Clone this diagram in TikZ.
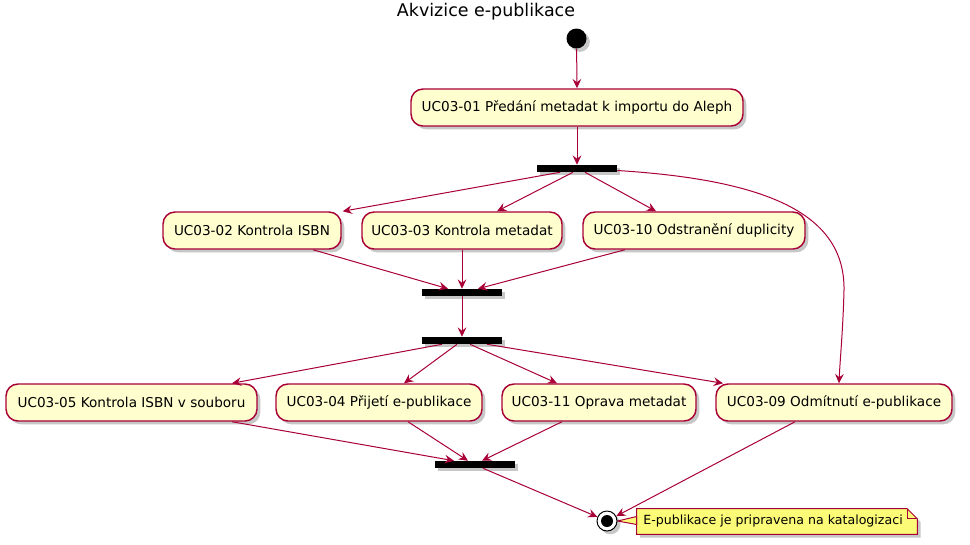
\documentclass[tikz,border=0pt]{standalone}
\usepackage{fontspec}
\setmainfont{DejaVu Sans}
\usetikzlibrary{arrows.meta,shadows,backgrounds}
\definecolor{boxfill}{HTML}{FEFECE}
\definecolor{boxline}{HTML}{A80036}
\definecolor{notefill}{HTML}{FBFB77}
\tikzset{
 shd/.style={drop shadow={shadow xshift=2.5pt,shadow yshift=-2.5pt,opacity=0.22,fill=black}},
 act/.style={draw=boxline, fill=boxfill, line width=1.1pt, rounded corners=9pt, minimum height=27.75pt, inner sep=0pt, font=\fontsize{10.2}{12}\selectfont, shd},
 bar/.style={fill=black, draw=none, minimum width=60pt, minimum height=5.25pt, inner sep=0pt, shd},
 flow/.style={draw=boxline, line width=0.75pt, -{Stealth[length=7pt,width=6.5pt,inset=2.5pt]}},
 notebody/.style={fill=notefill, draw=boxline, line width=0.75pt},
}
\begin{document}
\begin{tikzpicture}[x=0.75pt,y=-0.75pt]
\useasboundingbox (0,0) rectangle (970,544);
\node[font=\fontsize{13.1}{15}\selectfont] (title) at (486,12) {Akvizice e-publikace};
\node[circle, fill=black, minimum size=15pt, inner sep=0pt, shd] (start) at (576.5,38.5) {};
\node[act, minimum width=249pt] (a01) at (577,107.5) {UC03-01 Předání metadat k importu do Aleph};
\node[bar] (fork1) at (577,168.5) {};
\node[act, minimum width=133.5pt] (b02) at (252,230.5) {UC03-02 Kontrola ISBN};
\node[act, minimum width=150pt] (b03) at (462,230.5) {UC03-03 Kontrola metadat};
\node[act, minimum width=166.5pt] (b10) at (694,230.5) {UC03-10 Odstranění duplicity};
\node[bar] (join2) at (462,292.5) {};
\node[bar] (fork3) at (462,340.5) {};
\node[act, minimum width=188.25pt] (c05) at (131.5,402.5) {UC03-05 Kontrola ISBN v souboru};
\node[act, minimum width=154.5pt] (c04) at (379,402.5) {UC03-04 Přijetí e-publikace};
\node[act, minimum width=145.5pt] (c11) at (599,402.5) {UC03-11 Oprava metadat};
\node[act, minimum width=177pt] (c09) at (834,402.5) {UC03-09 Odmítnutí e-publikace};
\node[bar] (join4) at (475,464.5) {};
\node[circle, draw=black, fill=white, line width=0.75pt, minimum size=15pt, inner sep=0pt, shd] (endc) at (607,521) {};
\fill[black] (endc.center) circle (4.5pt);
\node[minimum width=210pt, minimum height=18.75pt, inner sep=0pt, font=\fontsize{9.45}{11}\selectfont] (note) at (777,521.5) {\hspace*{-6pt}E-publikace je pripravena na katalogizaci};
\begin{scope}[on background layer]
\path[notebody, shd] (note.north west) -- ([xshift=-7.5pt]note.north east) -- ([yshift=-7.5pt]note.north east) -- (note.south east) -- (note.south west) -- cycle;
\draw[boxline, line width=0.75pt] ([xshift=-7.5pt]note.north east) -- ([xshift=-7.5pt,yshift=-7.5pt]note.north east) -- ([yshift=-7.5pt]note.north east);
\path[notebody] (endc.east) -- ([yshift=3.75pt]note.west) -- ([yshift=-2.25pt]note.west) -- cycle;
\end{scope}
% connectors
\draw[flow] (start) -- (a01.north);
\draw[flow] (a01.south) -- (fork1.north);
\draw[flow] ([xshift=-12.75pt]fork1.south) -- ([xshift=0.75pt]b02.north east);
\draw[flow] ([xshift=-3pt]fork1.south) -- ([xshift=26.25pt]b03.north);
\draw[flow] ([xshift=6pt]fork1.south) -- ([xshift=-28.5pt]b10.north);
\draw[flow] ([yshift=-1.5pt]fork1.east) .. controls (770,180) and (845,215) .. (844,290) .. controls (843,330) and (840,360) .. ([xshift=3.75pt]c09.north);
\draw[flow] ([xshift=45.75pt]b02.south) -- ([xshift=-10.5pt]join2.north);
\draw[flow] (b03.south) -- (join2.north);
\draw[flow] ([xshift=-51.75pt]b10.south) -- ([xshift=12pt]join2.north);
\draw[flow] (join2.south) -- (fork3.north);
\draw[flow] ([xshift=-15pt]fork3.south) -- ([xshift=75.4pt]c05.north);
\draw[flow] ([xshift=-3.75pt]fork3.south) -- ([xshift=18.75pt]c04.north);
\draw[flow] ([xshift=6pt]fork3.south) -- ([xshift=-31.5pt]c11.north);
\draw[flow] ([xshift=18.75pt]fork3.south) -- ([xshift=-83.25pt]c09.north);
\draw[flow] ([xshift=75.4pt]c05.south) -- ([xshift=-15.75pt]join4.north);
\draw[flow] ([xshift=21.75pt]c04.south) -- ([xshift=-5.25pt]join4.north);
\draw[flow] ([xshift=-27.75pt]c11.south) -- ([xshift=5.25pt]join4.north);
\draw[flow] ([xshift=6pt]join4.south) -- (endc);
\draw[flow] ([xshift=-29.25pt]c09.south) -- (endc);
\end{tikzpicture}
\end{document}
